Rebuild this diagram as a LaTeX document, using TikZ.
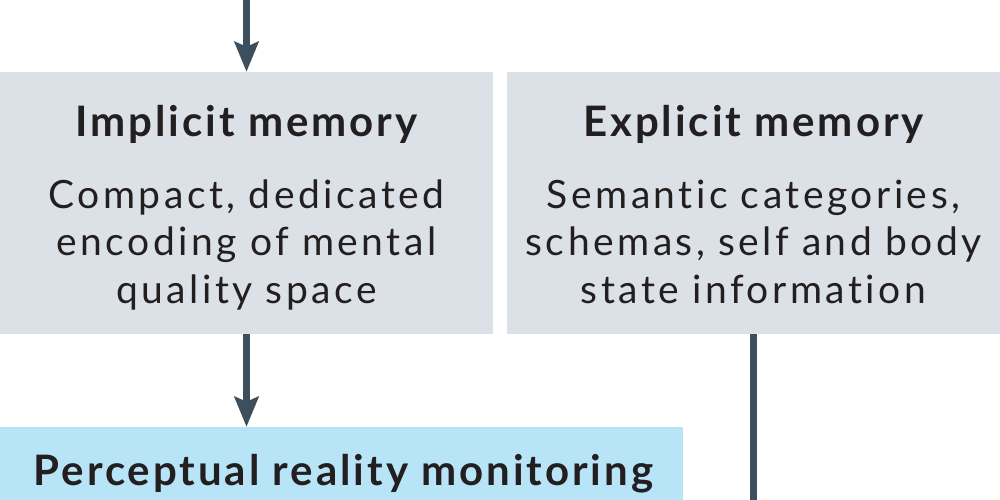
\documentclass[tikz,border=0pt]{standalone}
\usepackage{fontspec}
\setmainfont[LetterSpace=9,Ligatures=NoCommon]{Lato}
\newfontfamily\titlefont[LetterSpace=7,Ligatures=NoCommon]{Lato}
\usetikzlibrary{arrows.meta}
\usetikzlibrary{positioning}

\definecolor{boxgrey}{HTML}{DCE1E8}
\definecolor{boxblue}{HTML}{B8E4F8}
\definecolor{arrowslate}{HTML}{3D4F5C}
\definecolor{inkdark}{HTML}{231F20}

\tikzset{
  membox/.style={rectangle,fill=boxgrey,draw=none,inner sep=0pt,
    minimum width=493pt,minimum height=262pt},
  monbox/.style={rectangle,fill=boxblue,draw=none,inner sep=0pt,
    minimum width=683pt,minimum height=100pt},
  boxtitle/.style={inner sep=0pt,anchor=base,text=inkdark,
    font=\titlefont\fontsize{42}{49}\selectfont\bfseries},
  boxbody/.style={inner sep=0pt,anchor=base,text=inkdark,align=center,
    text width=490pt,font=\fontsize{39}{47.5}\selectfont},
  flow/.style={draw=arrowslate,line width=7pt,
    -{Stealth[length=30pt,width=24pt,inset=5pt]}},
  flowline/.style={draw=arrowslate,line width=7pt}
}

\begin{document}
\begin{tikzpicture}[x=1pt,y=-1pt]

  \clip (0,0) rectangle (1000,500);
  \useasboundingbox (0,0) rectangle (1000,500);

  % memory boxes
  \node [membox] (Impl) at (246.5,203) {};
  \node [membox] (Expl) at (753.5,203) {};
  \node [monbox] (Perc) at (341.5,477) {};

  \node [boxtitle] (Impl_title) at (246.5,136) {Implicit memory};
  \node [boxbody]  (Impl_body)  at (246.5,208)
    {Compact, dedicated\\encoding of mental\\quality space};

  \node [boxtitle] (Expl_title) at (753.5,136) {Explicit memory};
  \node [boxbody]  (Expl_body)  at (753.5,208)
    {Semantic categories,\\schemas, self and body\\state information};

  \node [boxtitle] (Perc_title) at (343.5,485) {Perceptual reality monitoring};

  % free ends
  \coordinate (Impl_in)  at (Impl.north |- 0,-5);
  \coordinate (Expl_out) at (Expl.south |- 0,520);

  \path [flow] (Impl_in) -- (Impl.north);
  \path [flow] (Impl.south) -- (Impl.south |- Perc.north);
  \path [flowline] (Expl.south) -- (Expl_out);

\end{tikzpicture}
\end{document}
